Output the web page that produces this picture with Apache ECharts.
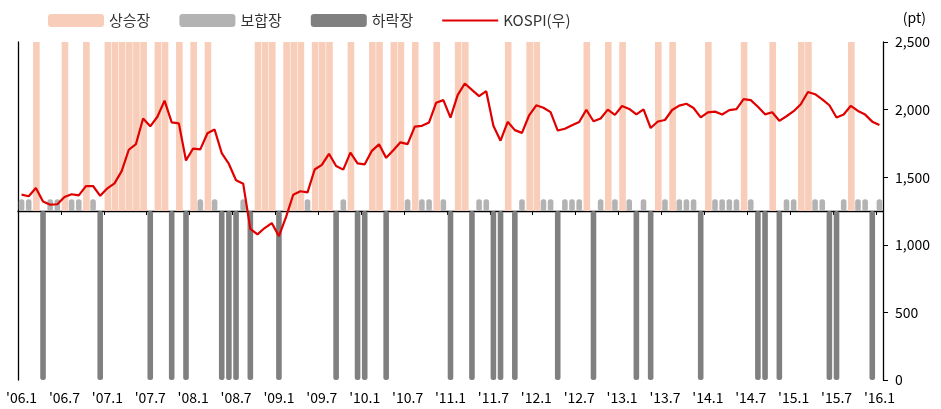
<!DOCTYPE html>
<html>
<head>
<meta charset="utf-8">
<script src="https://cdn.jsdelivr.net/npm/echarts@6/dist/echarts.min.js"></script>
<style>
  html, body { margin: 0; padding: 0; background: #fff; }
  #main { width: 941px; height: 409px; }
</style>
</head>
<body>
<div id="main"></div>
<script>
// regime of each month: S = 상승장, G = 보합장, D = 하락장
var regimes = [
  'G','G','S','D','G','G','S','G','G','S','G','D',
  'S','S','S','S','S','S','D','S','S','D','S','D',
  'S','G','S','G','D','D','D','G','D','S','S','S',
  'D','S','S','S','G','S','S','S','D','G','S','D',
  'D','S','S','D','S','S','G','S','G','G','S','G',
  'D','S','S','D','G','G','D','D','S','D','G','S',
  'S','G','G','D','G','G','G','S','D','G','S','G',
  'S','G','D','G','D','S','G','S','G','G','G','D',
  'S','G','G','G','G','S','G','D','D','S','D','G',
  'G','S','S','G','G','D','D','G','S','G','G','D',
  'G'
];

// KOSPI (right axis, pt)
var kospi = [
  1371, 1359, 1420, 1320, 1297, 1300, 1354, 1374, 1366, 1434, 1435, 1362,
  1418, 1454, 1545, 1703, 1745, 1934, 1876, 1947, 2066, 1906, 1898, 1624,
  1712, 1706, 1825, 1853, 1678, 1598, 1477, 1452, 1118, 1077, 1124, 1161,
  1064, 1206, 1370, 1396, 1388, 1557, 1591, 1673, 1583, 1556, 1682, 1602,
  1595, 1695, 1743, 1643, 1700, 1758, 1745, 1874, 1880, 1905, 2051, 2070,
  1941, 2107, 2193, 2146, 2100, 2136, 1880, 1770, 1910, 1848, 1828, 1958,
  2032, 2014, 1981, 1845, 1858, 1884, 1908, 1999, 1914, 1934, 2000, 1961,
  2027, 2005, 1964, 2002, 1864, 1912, 1923, 1997, 2029, 2043, 2012, 1942,
  1979, 1985, 1964, 1996, 2004, 2077, 2070, 2021, 1965, 1980, 1917, 1951,
  1988, 2040, 2130, 2114, 2076, 2032, 1942, 1964, 2028, 1990, 1963, 1911,
  1886
];

// bar heights on the hidden left axis (-1 .. 1)
var regimeLevel = { S: 1, G: 0.07, D: -1 };
var regimeNames = { S: '상승장', G: '보합장', D: '하락장' };

var firstYear = 2006;
var months = [];
for (var i = 0; i < regimes.length; i++) {
  var y = firstYear + Math.floor(i / 12);
  var m = i % 12 + 1;
  months.push("'" + String(y).slice(2) + '.' + m);
}

function regimeData(code) {
  return regimes.map(function (r) { return r === code ? regimeLevel[code] : '-'; });
}

var font = 'Noto Sans CJK KR';
// thin horizontal stroke inside a 56x13 box, for the line legend
var lineIcon = 'path://M0,0L0,0M0,5.4L56,5.4L56,7.6L0,7.6ZM56,13L56,13';

var option = {
  animation: false,
  textStyle: { fontFamily: font },
  title: {
    text: '(pt)', right: 10, top: 6,
    textStyle: { fontSize: 14, fontWeight: 'normal', color: '#000', fontFamily: font }
  },
  legend: {
    left: 43, top: 8,
    itemWidth: 56, itemHeight: 13, itemGap: 29,
    textStyle: { fontSize: 15, color: '#333', fontFamily: font },
    data: [
      { name: '상승장', icon: 'roundRect' },
      { name: '보합장', icon: 'roundRect' },
      { name: '하락장', icon: 'roundRect' },
      { name: 'KOSPI(우)', icon: lineIcon }
    ]
  },
  grid: { left: 18, right: 58, top: 42, bottom: 29 },
  xAxis: [{
    type: 'category',
    data: months,
    position: 'bottom',
    axisLine: { show: false, onZero: false },
    axisTick: { show: false },
    axisLabel: {
      interval: 5, margin: 11, fontSize: 14, color: '#000', fontFamily: font
    }
  }, {
    type: 'category',
    data: months,
    position: 'top',
    axisLine: { show: true, onZero: true, onZeroAxisIndex: 0, lineStyle: { color: '#000', width: 1.3 } },
    axisTick: { show: true, inside: true, interval: 5, length: 4, lineStyle: { color: '#000' } },
    axisLabel: { show: false }
  }],
  yAxis: [{
    type: 'value',
    min: -1, max: 1,
    position: 'left',
    axisLine: { show: true, lineStyle: { color: '#000', width: 1.3 } },
    axisTick: { show: false },
    axisLabel: { show: false },
    splitLine: { show: false }
  }, {
    type: 'value',
    min: 0, max: 2500, interval: 500,
    position: 'right',
    axisLine: { show: true, lineStyle: { color: '#000', width: 1.3 } },
    axisTick: { show: true, length: 5, lineStyle: { color: '#000' } },
    axisLabel: {
      margin: 12, fontSize: 14, color: '#000', fontFamily: font,
      formatter: function (v) { return v.toLocaleString('en-US'); }
    },
    splitLine: { show: false }
  }],
  series: [{
    name: regimeNames.S,
    type: 'bar',
    data: regimeData('S'),
    barWidth: 6.6,
    barGap: '-100%',
    itemStyle: { color: '#F8CDBA' }
  }, {
    name: regimeNames.G,
    type: 'bar',
    data: regimeData('G'),
    barWidth: 5.6,
    barGap: '-100%',
    itemStyle: { color: '#B3B3B3', borderRadius: 2.5 }
  }, {
    name: regimeNames.D,
    type: 'bar',
    data: regimeData('D'),
    barWidth: 5.6,
    barGap: '-100%',
    itemStyle: { color: '#808080', borderRadius: 2.5 }
  }, {
    name: 'KOSPI(우)',
    type: 'line',
    yAxisIndex: 1,
    data: kospi,
    symbol: 'none',
    z: 5,
    lineStyle: { color: '#E00000', width: 2.2 },
    itemStyle: { color: '#E00000' }
  }]
};

var myChart = echarts.init(document.getElementById('main'));
myChart.setOption(option);
</script>
</body>
</html>
